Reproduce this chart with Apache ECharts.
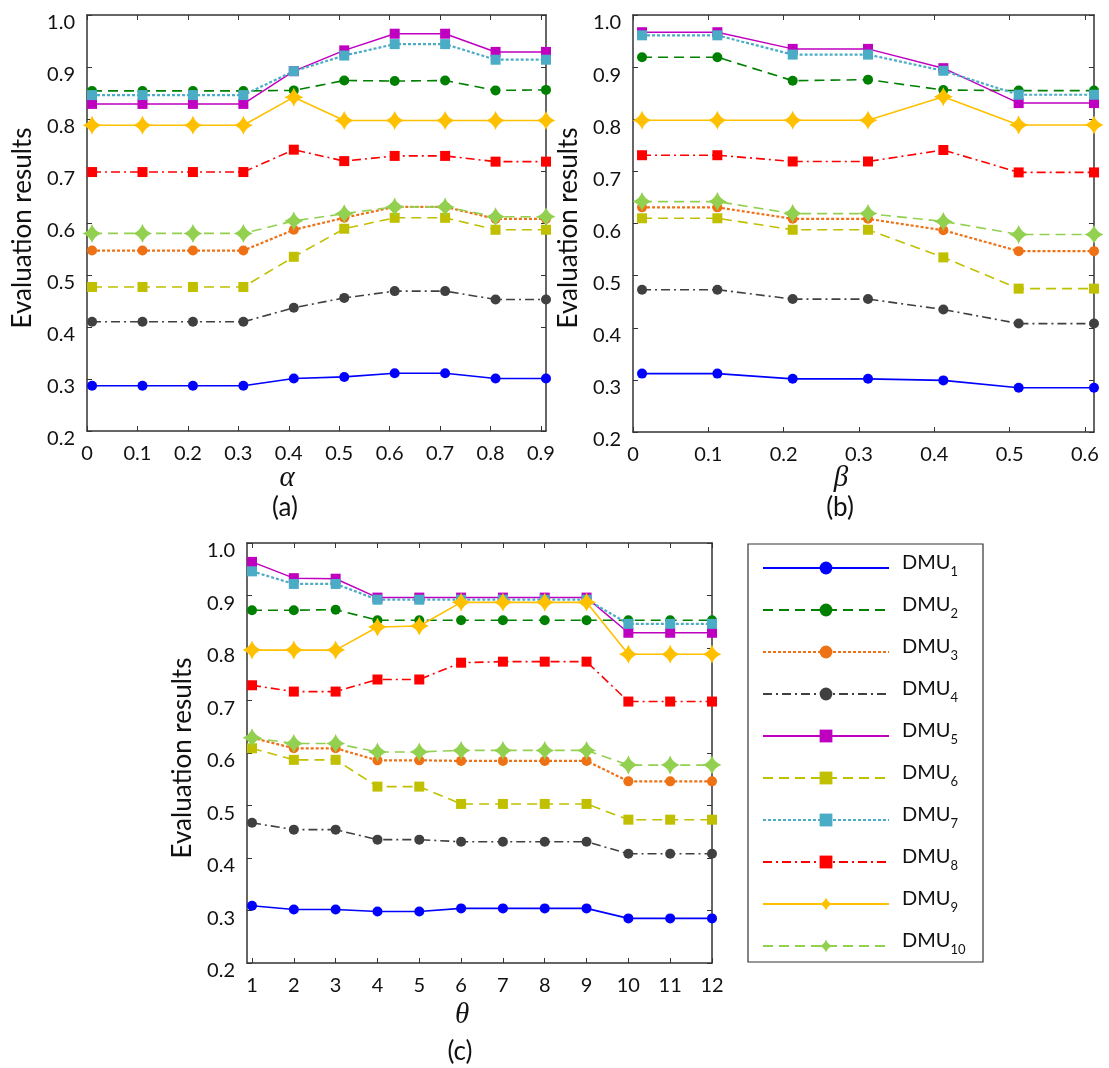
<!DOCTYPE html>
<html>
<head>
<meta charset="utf-8">
<script src="https://cdn.jsdelivr.net/npm/echarts@6/dist/echarts.min.js"></script>
<style>
  html, body { margin: 0; background: #fff; }
  #main { width: 1109px; height: 1068px; }
</style>
</head>
<body>
<div id="main"></div>
<script>
// x values of the three panels
const alphaX = [0, 0.1, 0.2, 0.3, 0.4, 0.5, 0.6, 0.7, 0.8, 0.9]
const betaX = [0, 0.1, 0.2, 0.3, 0.4, 0.5, 0.6]
const thetaX = [1, 2, 3, 4, 5, 6, 7, 8, 9, 10, 11, 12]

const dmuNames = ['DMU1', 'DMU2', 'DMU3', 'DMU4', 'DMU5', 'DMU6', 'DMU7', 'DMU8', 'DMU9', 'DMU10']

// (a) results vs alpha
const alphaDMU1 = [0.287, 0.287, 0.287, 0.287, 0.301, 0.304, 0.311, 0.311, 0.301, 0.301]
const alphaDMU2 = [0.854, 0.854, 0.854, 0.854, 0.855, 0.874, 0.873, 0.874, 0.855, 0.856]
const alphaDMU3 = [0.547, 0.547, 0.547, 0.547, 0.587, 0.610, 0.631, 0.631, 0.608, 0.608]
const alphaDMU4 = [0.410, 0.410, 0.410, 0.410, 0.437, 0.456, 0.469, 0.469, 0.453, 0.453]
const alphaDMU5 = [0.829, 0.829, 0.829, 0.829, 0.892, 0.932, 0.964, 0.964, 0.929, 0.929]
const alphaDMU6 = [0.477, 0.477, 0.477, 0.477, 0.535, 0.589, 0.610, 0.610, 0.587, 0.587]
const alphaDMU7 = [0.846, 0.846, 0.846, 0.846, 0.892, 0.922, 0.944, 0.944, 0.914, 0.914]
const alphaDMU8 = [0.698, 0.698, 0.698, 0.698, 0.741, 0.719, 0.729, 0.729, 0.718, 0.718]
const alphaDMU9 = [0.788, 0.788, 0.788, 0.788, 0.842, 0.797, 0.797, 0.797, 0.797, 0.797]
const alphaDMU10 = [0.580, 0.580, 0.580, 0.580, 0.604, 0.618, 0.631, 0.631, 0.612, 0.612]

// (b) results vs beta
const betaDMU1 = [0.312, 0.312, 0.302, 0.302, 0.299, 0.285, 0.285]
const betaDMU2 = [0.919, 0.919, 0.874, 0.876, 0.856, 0.855, 0.855]
const betaDMU3 = [0.631, 0.631, 0.609, 0.609, 0.587, 0.547, 0.547]
const betaDMU4 = [0.473, 0.473, 0.455, 0.455, 0.435, 0.408, 0.408]
const betaDMU5 = [0.967, 0.967, 0.935, 0.935, 0.898, 0.831, 0.831]
const betaDMU6 = [0.610, 0.610, 0.588, 0.588, 0.535, 0.475, 0.475]
const betaDMU7 = [0.961, 0.961, 0.924, 0.924, 0.893, 0.847, 0.847]
const betaDMU8 = [0.731, 0.731, 0.719, 0.719, 0.741, 0.698, 0.698]
const betaDMU9 = [0.798, 0.798, 0.798, 0.798, 0.843, 0.789, 0.789]
const betaDMU10 = [0.642, 0.642, 0.619, 0.619, 0.604, 0.579, 0.579]

// (c) results vs theta
const thetaDMU1 = [0.309, 0.302, 0.302, 0.298, 0.298, 0.304, 0.304, 0.304, 0.304, 0.285, 0.285, 0.285]
const thetaDMU2 = [0.872, 0.872, 0.873, 0.853, 0.853, 0.853, 0.853, 0.853, 0.853, 0.853, 0.853, 0.853]
const thetaDMU3 = [0.629, 0.609, 0.609, 0.586, 0.586, 0.585, 0.585, 0.585, 0.585, 0.546, 0.546, 0.546]
const thetaDMU4 = [0.467, 0.454, 0.454, 0.435, 0.435, 0.431, 0.431, 0.431, 0.431, 0.408, 0.408, 0.408]
const thetaDMU5 = [0.964, 0.933, 0.932, 0.896, 0.896, 0.896, 0.896, 0.896, 0.896, 0.829, 0.829, 0.829]
const thetaDMU6 = [0.609, 0.587, 0.587, 0.536, 0.536, 0.503, 0.503, 0.503, 0.503, 0.473, 0.473, 0.473]
const thetaDMU7 = [0.946, 0.922, 0.922, 0.892, 0.892, 0.892, 0.892, 0.892, 0.892, 0.846, 0.846, 0.846]
const thetaDMU8 = [0.729, 0.717, 0.717, 0.740, 0.740, 0.772, 0.774, 0.774, 0.774, 0.698, 0.698, 0.698]
const thetaDMU9 = [0.796, 0.796, 0.796, 0.840, 0.842, 0.887, 0.887, 0.887, 0.887, 0.788, 0.788, 0.788]
const thetaDMU10 = [0.629, 0.618, 0.618, 0.602, 0.602, 0.605, 0.605, 0.605, 0.605, 0.577, 0.577, 0.577]

const alphaData = [alphaDMU1, alphaDMU2, alphaDMU3, alphaDMU4, alphaDMU5, alphaDMU6, alphaDMU7, alphaDMU8, alphaDMU9, alphaDMU10]
const betaData = [betaDMU1, betaDMU2, betaDMU3, betaDMU4, betaDMU5, betaDMU6, betaDMU7, betaDMU8, betaDMU9, betaDMU10]
const thetaData = [thetaDMU1, thetaDMU2, thetaDMU3, thetaDMU4, thetaDMU5, thetaDMU6, thetaDMU7, thetaDMU8, thetaDMU9, thetaDMU10]

// 4-point star marker
const star = 'path://M0,-10 Q2.6,-2.6 10,0 Q2.6,2.6 0,10 Q-2.6,2.6 -10,0 Q-2.6,-2.6 0,-10 Z'

// line look of each DMU
const styles = [
    { color: '#0000ff', type: 'solid', width: 1.6, symbol: 'circle', size: 10 },
    { color: '#008000', type: [10, 6], width: 1.6, symbol: 'circle', size: 10 },
    { color: '#ef7115', type: [3, 2], width: 2.2, symbol: 'circle', size: 10 },
    { color: '#404040', type: [9, 4, 2, 4], width: 1.6, symbol: 'circle', size: 10 },
    { color: '#c000c0', type: 'solid', width: 1.5, symbol: 'rect', size: 10 },
    { color: '#c0c000', type: [10, 6], width: 1.6, symbol: 'rect', size: 10 },
    { color: '#4bacc6', type: [3, 2], width: 2.2, symbol: 'rect', size: 10 },
    { color: '#ff0000', type: [9, 4, 2, 4], width: 1.6, symbol: 'rect', size: 10 },
    { color: '#ffc000', type: 'solid', width: 1.6, symbol: star, size: 19 },
    { color: '#92d050', type: [10, 6], width: 1.6, symbol: star, size: 19 }
]

const font = 'Lato'
const textColor = '#111'
const boxColor = '#333'

const grids = [
    { left: 87, top: 15, width: 459, height: 416 },
    { left: 633, top: 15, width: 461, height: 417 },
    { left: 247, top: 543, width: 465, height: 420 }
]

// tick marks sit slightly left of the data points in (a) and (b)
const alphaTicks = alphaX.map(v => v - 0.01)
const betaTicks = betaX.map(v => v - 0.012)

function xAxes(gridIndex, min, max, ticks, labels) {
    let base = {
        gridIndex: gridIndex,
        type: 'value',
        min: min,
        max: max,
        splitLine: { show: false },
        axisLine: { onZero: false, lineStyle: { color: boxColor, width: 1.5 } },
        axisTick: { inside: true, length: 5, customValues: ticks, lineStyle: { color: boxColor } }
    }
    return [
        Object.assign({}, base, {
            position: 'bottom',
            axisLabel: {
                customValues: ticks,
                formatter: v => labels[ticks.findIndex(t => Math.abs(t - v) < 1e-6)],
                fontFamily: font, fontSize: 20, color: textColor, margin: 13
            }
        }),
        Object.assign({}, base, { position: 'top', axisLabel: { show: false } })
    ]
}

function yAxes(gridIndex) {
    let base = {
        gridIndex: gridIndex,
        type: 'value',
        min: 0.2,
        max: 1.0,
        interval: 0.1,
        splitLine: { show: false },
        axisLine: { onZero: false, lineStyle: { color: boxColor, width: 1.5 } },
        axisTick: { inside: true, length: 5, lineStyle: { color: boxColor } }
    }
    return [
        Object.assign({}, base, {
            position: 'left',
            axisLabel: {
                formatter: v => v.toFixed(1),
                fontFamily: font, fontSize: 20, color: textColor, margin: 12,
                verticalAlign: 'top', lineHeight: 16
            }
        }),
        Object.assign({}, base, { position: 'right', axisLabel: { show: false } })
    ]
}

let xAxis = [].concat(
    xAxes(0, -0.01, 0.9, alphaTicks, alphaX.map(v => v === 0 ? '0' : v.toFixed(1))),
    xAxes(1, -0.012, 0.6, betaTicks, betaX.map(v => v === 0 ? '0' : v.toFixed(1))),
    xAxes(2, 0.88, 12, thetaX, thetaX.map(v => String(v)))
)
let yAxis = [].concat(yAxes(0), yAxes(1), yAxes(2))

let series = []
function addPanel(gridIndex, xs, panelData) {
    panelData.forEach((vals, i) => {
        let s = styles[i]
        series.push({
            name: dmuNames[i],
            type: 'line',
            xAxisIndex: gridIndex * 2,
            yAxisIndex: gridIndex * 2,
            data: xs.map((x, k) => [x, vals[k]]),
            symbol: s.symbol,
            symbolSize: s.size,
            clip: false,
            lineStyle: { color: s.color, width: s.width, type: s.type },
            itemStyle: { color: s.color },
            animation: false
        })
    })
}
addPanel(0, alphaX, alphaData)
addPanel(1, betaX, betaData)
addPanel(2, thetaX, thetaData)

function label(text, x, y, fontStr, rotation) {
    return {
        type: 'text',
        x: x,
        y: y,
        rotation: rotation || 0,
        style: { text: text, x: 0, y: 0, font: fontStr, fill: textColor, align: 'center', verticalAlign: 'middle' }
    }
}

const titleFont = '26px ' + font
const greekFont = 'italic 29px "Liberation Serif"'

let option = {
    backgroundColor: '#fff',
    grid: grids,
    xAxis: xAxis,
    yAxis: yAxis,
    series: series,
    legend: {
        data: dmuNames,
        orient: 'vertical',
        left: 757,
        top: 548,
        itemWidth: 126,
        itemHeight: 16,
        itemGap: 17,
        formatter: name => '{n|DMU}{s|' + name.slice(3) + '}',
        textStyle: {
            padding: [0, 0, 0, 8],
            rich: {
                n: { fontFamily: font, fontSize: 20, lineHeight: 20, color: textColor, verticalAlign: 'bottom', padding: [0, 0, 5, 0] },
                s: { fontFamily: font, fontSize: 13, lineHeight: 13, color: textColor, verticalAlign: 'bottom' }
            }
        }
    },
    graphic: [
        { type: 'rect', shape: { x: 748, y: 544, width: 235, height: 418 }, style: { fill: 'none', stroke: boxColor, lineWidth: 1.2 } },
        label('Evaluation results', 23, 228, titleFont, Math.PI / 2),
        label('Evaluation results', 569, 228, titleFont, Math.PI / 2),
        label('Evaluation results', 183, 758, titleFont, Math.PI / 2),
        label('\u03b1', 287, 478, greekFont),
        label('\u03b2', 841, 478, greekFont),
        label('\u03b8', 462, 1015, greekFont),
        label('(a)', 285, 508, titleFont),
        label('(b)', 840, 508, titleFont),
        label('(c)', 460, 1052, titleFont)
    ]
}

let myChart = echarts.init(document.getElementById('main'))
myChart.setOption(option)
</script>
</body>
</html>
